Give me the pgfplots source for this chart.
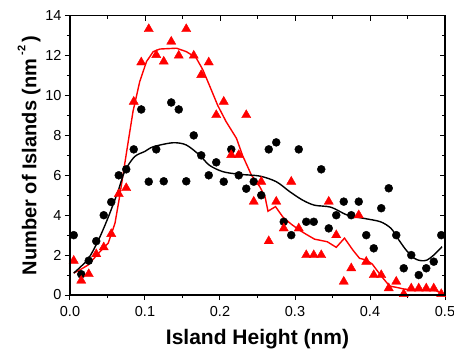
\documentclass[border=0pt]{standalone}
\usepackage{pgfplots}
\pgfplotsset{compat=1.18}
\usepackage{fontspec}
\setmainfont{Liberation Sans}
\definecolor{myred}{RGB}{255,0,0}
\begin{document}
\begin{tikzpicture}
\pgfplotsset{
  commonax/.style={
    width=375bp, height=279.3bp, scale only axis,
    xmin=0, xmax=0.5, ymin=0, ymax=14,
    xtick={0,0.1,0.2,0.3,0.4,0.5},
    ytick={0,2,4,6,8,10,12,14},
    minor x tick num=1, minor y tick num=1,
    major tick length=5bp, minor tick length=3bp,
    axis line style={line width=1.2bp},
    every tick/.style={line width=1bp, black},
  }
}
\begin{axis}[name=ax, commonax,
  tick pos=left, tick align=outside,
  /pgf/number format/assume math mode=true,
  xticklabel style={yshift=-3bp, /pgf/number format/.cd, fixed, fixed zerofill, precision=1},
  yticklabel style={/pgf/number format/.cd, fixed, precision=0},
  tick label style={font=\fontsize{14.5bp}{16bp}\selectfont},
  xlabel={Island Height (nm)},
  ylabel={Number of Islands (nm\,\raisebox{0.55em}{\fontsize{11bp}{12bp}\selectfont -2}\,)},
  xlabel style={yshift=-6bp, font=\fontsize{21bp}{24bp}\selectfont\bfseries},
  ylabel style={yshift=-2bp, font=\fontsize{20bp}{23bp}\selectfont\bfseries},
  clip=false,
]
% black circles
\addplot[only marks, mark=*, mark size=4bp, black] coordinates {
(0.005,3.0)(0.015,1.04)(0.025,1.72)(0.035,2.7)(0.045,4.0)(0.055,4.66)(0.065,6.0)(0.075,6.3)(0.085,7.3)(0.095,9.3)
(0.105,5.68)(0.115,7.3)(0.125,5.7)(0.135,9.65)(0.145,9.3)(0.155,5.7)(0.165,8.0)(0.175,7.0)(0.185,6.0)(0.195,6.65)
(0.205,5.68)(0.215,7.3)(0.225,6.0)(0.235,5.33)(0.245,5.68)(0.255,5.0)(0.265,7.3)(0.275,7.65)(0.285,3.67)(0.295,3.0)
(0.305,7.3)(0.315,3.67)(0.325,3.67)(0.335,6.3)(0.345,3.34)(0.355,4.0)(0.365,4.68)(0.375,4.0)(0.385,4.68)(0.395,3.0)
(0.405,2.34)(0.415,4.35)(0.425,5.35)(0.435,3.0)(0.445,1.34)(0.455,2.0)(0.465,1.0)(0.475,1.34)(0.485,1.67)(0.495,3.0)
};
% red triangles
\addplot[only marks, mark=triangle*, mark size=5.3bp, myred] coordinates {
(0.005,1.72)(0.015,0.72)(0.025,1.05)(0.035,2.05)(0.045,2.39)(0.055,3.06)(0.065,5.06)(0.075,5.36)(0.085,9.69)(0.095,11.66)
(0.105,13.33)(0.115,12.03)(0.125,11.7)(0.135,12.7)(0.145,12.0)(0.155,13.33)(0.165,12.0)(0.175,11.03)(0.185,11.66)(0.195,9.02)
(0.205,9.69)(0.215,7.02)(0.225,7.02)(0.235,9.02)(0.245,4.68)(0.255,5.68)(0.265,2.7)(0.275,4.68)(0.285,3.34)(0.295,5.68)
(0.305,3.34)(0.315,2.0)(0.325,2.0)(0.335,2.0)(0.345,4.68)(0.355,3.0)(0.365,0.67)(0.375,1.34)(0.385,4.0)(0.395,1.67)
(0.405,1.0)(0.415,1.0)(0.425,0.34)(0.435,0.67)(0.445,0.05)(0.455,0.33)(0.465,0.33)(0.475,0.33)(0.485,0.33)(0.495,0.05)
};
% red smoothed line
\addplot[myred, line width=1.4bp, mark=none] coordinates {
(0.005,1.1)(0.015,1.3)(0.024,1.5)(0.038,2.09)(0.051,2.6)(0.060,3.6)(0.066,4.9)(0.071,6.1)(0.076,7.3)(0.084,9.2)
(0.093,10.7)(0.102,11.7)(0.111,12.2)(0.120,12.33)(0.142,12.37)(0.155,12.2)(0.168,11.9)(0.177,11.3)(0.186,10.5)(0.197,9.5)
(0.208,8.7)(0.222,7.85)(0.230,7.0)(0.242,6.0)(0.253,5.43)(0.260,4.93)(0.264,4.2)(0.274,4.43)(0.284,3.9)(0.295,3.55)
(0.306,3.25)(0.315,3.04)(0.326,2.8)(0.343,2.67)(0.355,2.39)(0.366,2.85)(0.377,2.26)(0.386,1.84)(0.395,1.75)(0.403,1.55)
(0.414,1.0)(0.426,0.45)(0.437,0.37)(0.445,0.3)(0.461,0.25)(0.488,0.22)(0.497,0.05)
};
% black smoothed line
\addplot[black, line width=1.4bp, mark=none, smooth] coordinates {
(0.005,1.1)(0.024,1.8)(0.038,2.76)(0.051,3.9)(0.064,5.2)(0.073,6.2)(0.086,6.93)(0.100,7.2)(0.111,7.43)(0.137,7.63)
(0.155,7.52)(0.173,7.0)(0.186,6.5)(0.204,6.18)(0.226,6.05)(0.253,5.96)(0.275,5.68)(0.293,5.18)(0.31,4.76)(0.326,4.5)
(0.348,4.4)(0.37,4.0)(0.392,3.84)(0.414,3.67)(0.428,3.34)(0.437,2.84)(0.448,2.26)(0.459,1.84)(0.468,1.72)(0.476,1.75)
(0.485,2.0)(0.496,2.42)
};
\end{axis}
\begin{axis}[commonax, at={(ax.south west)}, anchor=south west,
  tick pos=right, tick align=inside,
  xticklabels={}, yticklabels={}]
\end{axis}
\pgfresetboundingbox
\path ([shift={(-70bp,-60bp)}]ax.south west) rectangle ([shift={(9bp,15.7bp)}]ax.north east);
\end{tikzpicture}
\end{document}
